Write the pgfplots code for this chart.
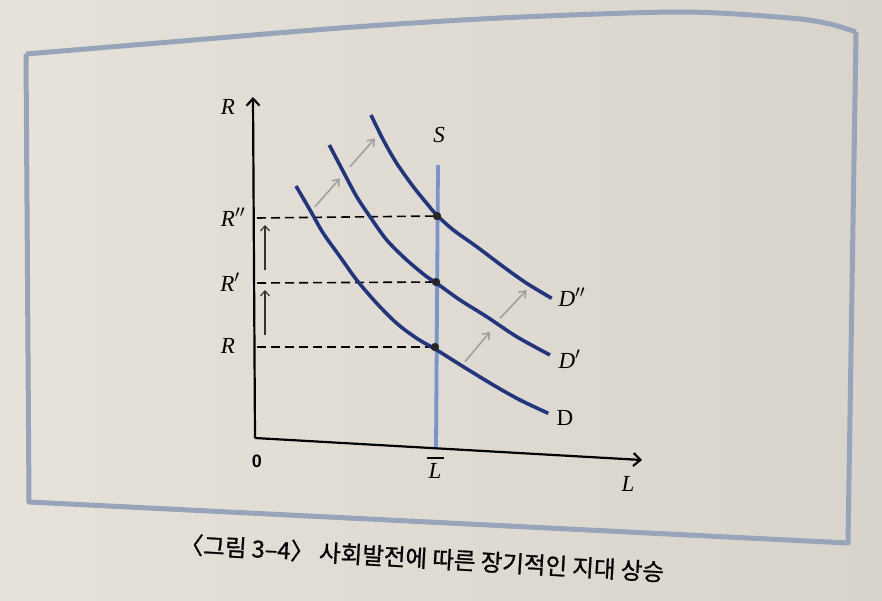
\documentclass[border=0pt]{standalone}
\usepackage{pgfplots}
\pgfplotsset{compat=1.18}
\usepackage{fontspec}
\setmainfont{Liberation Serif}
\setsansfont{Liberation Sans}
\newfontfamily\cjk{Noto Sans CJK KR}[AutoFakeBold=1.0]
\usetikzlibrary{arrows.meta}
\definecolor{bgA}{HTML}{E6E2DA}
\definecolor{bgB}{HTML}{D8D4CC}
\definecolor{frame}{HTML}{97A4B9}
\definecolor{navy}{HTML}{23357C}
\definecolor{sblue}{HTML}{7A93C8}
\definecolor{garrow}{HTML}{A0A0A0}
\begin{document}
\begin{tikzpicture}
\begin{axis}[
  hide axis, x=1pt, y=1pt, y dir=reverse,
  xmin=0, xmax=882, ymin=0, ymax=600,
  clip=false,
]
% background
\fill[left color=bgA, right color=bgB] (axis cs:0,0) rectangle (axis cs:882,600);
% frame
\addplot[frame, line width=5pt, smooth] coordinates {(26,54)(170,42)(340,28)(500,18)(680,12)(790,18)(830,24)(856,32)};
\addplot[frame, line width=5pt, line join=round] coordinates {(26,54)(29,502)(848,543)(856,32)};
% axes
\addplot[black, line width=2.2pt, -{Straight Barb[length=7pt,width=13pt,line width=2.2pt]}] coordinates {(255,438)(253,97)};
\addplot[black, line width=2.2pt, -{Straight Barb[length=7pt,width=13pt,line width=2.2pt]}] coordinates {(255,438)(642,460)};
% supply
\addplot[sblue, line width=3.8pt] coordinates {(438,165)(436,447)};
% dashed lines
\addplot[black, line width=1.6pt, dash pattern=on 9pt off 5pt] coordinates {(257,218)(437,216)};
\addplot[black, line width=1.6pt, dash pattern=on 9pt off 5pt] coordinates {(257,283)(436,282)};
\addplot[black, line width=1.6pt, dash pattern=on 9pt off 5pt] coordinates {(257,347)(435,347)};
% demand curves
\addplot[navy, line width=3.6pt, smooth] coordinates {(296,186)(310,210)(323.3,233.3)(340,256.7)(356.7,280)(376.7,303.3)(396.7,323.3)(416.7,338.3)(436.7,350)(463.3,366.7)(493.3,385)(520,400)(548.3,413.3)};
\addplot[navy, line width=3.6pt, smooth] coordinates {(329.3,145)(343.3,171.7)(356.7,196.7)(370,216.7)(386.7,240)(406.7,260)(426.7,276.7)(436.7,283.3)(460,300)(486.7,316.7)(516.7,336.7)(550,355)};
\addplot[navy, line width=3.6pt, smooth] coordinates {(371,115)(383.3,140)(396.7,163.3)(413.3,186.7)(426.7,203.3)(436.7,215)(453.3,230)(476.7,246.7)(503.3,266.7)(526.7,283.3)(551.7,298.3)};
% equilibrium points
\addplot[only marks, mark=*, mark size=3.9pt, black!85] coordinates {(437,216)(436,282)(435,347)};
% gray arrows
\draw[garrow, line width=1.6pt, -{Straight Barb[length=6pt,width=9pt,line width=1.6pt]}] (axis cs:315,206.7) -- (axis cs:340,178.3);
\draw[garrow, line width=1.6pt, -{Straight Barb[length=6pt,width=9pt,line width=1.6pt]}] (axis cs:350,166.7) -- (axis cs:375,138.3);
\draw[garrow, line width=1.6pt, -{Straight Barb[length=6pt,width=9pt,line width=1.6pt]}] (axis cs:465,361.7) -- (axis cs:490,331.7);
\draw[garrow, line width=1.6pt, -{Straight Barb[length=6pt,width=9pt,line width=1.6pt]}] (axis cs:500,318.3) -- (axis cs:526.7,290);
% black vertical arrows
\draw[black!80, line width=1.2pt, -{Straight Barb[length=5pt,width=9pt,line width=1.2pt]}] (axis cs:265,335) -- (axis cs:265,290);
\draw[black!80, line width=1.2pt, -{Straight Barb[length=5pt,width=9pt,line width=1.2pt]}] (axis cs:265,270) -- (axis cs:265,225);
% labels
\node[font=\fontsize{23}{25}\selectfont\itshape] at (axis cs:228,107) {R};
\node[font=\fontsize{23}{25}\selectfont\itshape] at (axis cs:233,217) {R$''$};
\node[font=\fontsize{23}{25}\selectfont\itshape] at (axis cs:230,282) {R$'$};
\node[font=\fontsize{23}{25}\selectfont\itshape] at (axis cs:228,346) {R};
\node[font=\fontsize{23}{25}\selectfont\itshape] at (axis cs:439,135) {S};
\node[font=\fontsize{23}{25}\selectfont\itshape, anchor=west] at (axis cs:555,297) {D$''$};
\node[font=\fontsize{23}{25}\selectfont\itshape, anchor=west] at (axis cs:555,359) {D$'$};
\node[font=\fontsize{23}{25}\selectfont, anchor=west] at (axis cs:553,418) {D};
\node[font=\fontsize{18}{20}\selectfont\sffamily\bfseries] at (axis cs:257,461) {0};
\node[font=\fontsize{23}{25}\selectfont\itshape] at (axis cs:435,471) {L};
\draw[black, line width=1.4pt] (axis cs:427,458) -- (axis cs:444,458);
\node[font=\fontsize{23}{25}\selectfont\itshape] at (axis cs:628,484) {L};
% caption
\node[font=\fontsize{23.5}{26}\selectfont\cjk\bfseries, rotate=-3.3] at (axis cs:422,558) {〈그림 3–4〉 사회발전에 따른 장기적인 지대 상승};
\end{axis}
\end{tikzpicture}
\end{document}
